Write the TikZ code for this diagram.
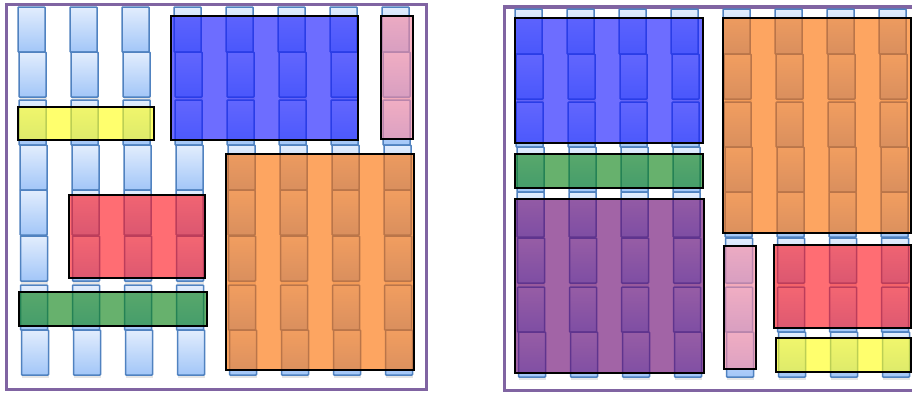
\documentclass[tikz,border=0pt]{standalone}
\definecolor{blktop}{RGB}{226,237,253}
\definecolor{blkbot}{RGB}{162,198,248}
\definecolor{blkborder}{RGB}{80,130,192}
\definecolor{framepurple}{RGB}{128,100,162}
\definecolor{ovblue}{RGB}{20,20,255}
\definecolor{ovpink}{RGB}{250,135,160}
\definecolor{ovyellow}{RGB}{255,255,20}
\definecolor{ovred}{RGB}{255,20,30}
\definecolor{ovgreen}{RGB}{10,130,20}
\definecolor{ovorange}{RGB}{252,110,0}
\definecolor{ovpurple}{RGB}{105,5,112}
\tikzset{
  blk/.style={draw=blkborder, line width=1.5pt, top color=blktop, bottom color=blkbot, rounded corners=0.8pt},
  blkshadow/.style={fill=black, fill opacity=0.10},
  ovl/.style={draw=black, line width=1.6pt, fill opacity=0.62},
  frame/.style={draw=framepurple, line width=3.6pt}
}
\begin{document}
\begin{tikzpicture}[x=1pt,y=-1pt]
\clip (0,0) rectangle (912,394);
\useasboundingbox (0,0) rectangle (912,394);
\fill[white] (0,0) rectangle (912,394);

% ---------- left panel ----------
\draw[frame] (6.5,4.5) rectangle (426.5,389.5);
\foreach \c in {0,...,7}{
  \foreach \t/\j in {7/0,52/1,100/1,145/2,190/2,236/2.5,285/2.5,330/3.5}{
    \path[blkshadow] ({18+52*\c+\j+0.5},{\t+2.5}) rectangle +(27,45);
    \path[blk] ({18+52*\c+\j},\t) rectangle +(27,45);
  }
}
\path[ovl, fill=ovblue]   (171,16)  rectangle (358,140);
\path[ovl, fill=ovpink]   (381,16)  rectangle (413,139);
\path[ovl, fill=ovyellow] (18,107)  rectangle (154,140);
\path[ovl, fill=ovred]    (69,195)  rectangle (205,278);
\path[ovl, fill=ovgreen]  (19,292)  rectangle (207,326);
\path[ovl, fill=ovorange] (226,154) rectangle (414,370);

% ---------- right panel ----------
\draw[frame] (504.5,7) rectangle (945,390.5);
\foreach \c in {0,...,7}{
  \foreach \t/\j in {9/0,54/1,102/1,147/2,192/2,238/2.5,287/2.5,332/3.5}{
    \path[blkshadow] ({515+52*\c+\j+0.5},{\t+2.5}) rectangle +(27,45);
    \path[blk] ({515+52*\c+\j},\t) rectangle +(27,45);
  }
}
\path[ovl, fill=ovblue]   (515,18)  rectangle (703,143);
\path[ovl, fill=ovgreen]  (515,154) rectangle (703,188);
\path[ovl, fill=ovpurple] (515,199) rectangle (704,373);
\path[ovl, fill=ovorange] (723,18)  rectangle (911,233);
\path[ovl, fill=ovpink]   (724,246) rectangle (756,369);
\path[ovl, fill=ovred]    (774,245) rectangle (911,328);
\path[ovl, fill=ovyellow] (776,338) rectangle (911,372);
\end{tikzpicture}
\end{document}
